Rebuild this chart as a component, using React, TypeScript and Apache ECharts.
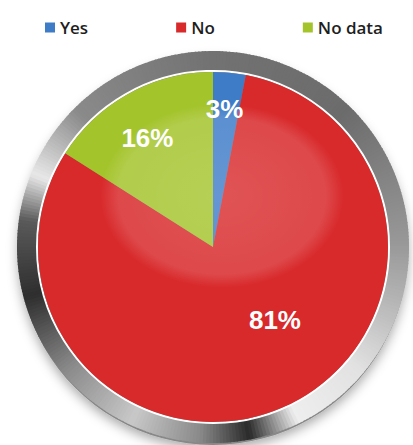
import React, { useEffect, useRef } from "react";
import * as echarts from "echarts";

const categories = ["Yes", "No", "No data"];
const values = [3, 81, 16];
const labels = ["3%", "81%", "16%"];
const colors = ["#3f7cc8", "#d8292b", "#a4c42c"];

const CX = 213;
const CY = 247;
const R = 175;

// decorative metallic ring colour stops (math angle in degrees, grey level)
const ringStops: [number, number][] = [
  [0, 0x9a],
  [45, 0x6c],
  [90, 0x72],
  [135, 0x8a],
  [158, 0xe8],
  [172, 0x5a],
  [195, 0x2e],
  [220, 0x8a],
  [245, 0xc8],
  [266, 0x8a],
  [281, 0x2a],
  [296, 0xee],
  [320, 0xe2],
  [345, 0xb2],
  [360, 0x9a],
];

function grayAt(a: number) {
  for (let i = 0; i < ringStops.length - 1; i++) {
    const [a0, g0] = ringStops[i];
    const [a1, g1] = ringStops[i + 1];
    if (a >= a0 && a <= a1) {
      const t = (a - a0) / (a1 - a0);
      const g = Math.round(g0 + (g1 - g0) * t);
      return `rgb(${g},${g},${g})`;
    }
  }
  return "#999";
}

export default function App() {
  const ref = useRef<HTMLDivElement>(null);
  useEffect(() => {
    if (!ref.current) return;
    const chart = echarts.init(ref.current, null, { renderer: "svg" });
    const ringEls: any[] = [];
    const step = 1;
    for (let a = 0; a < 360; a += step) {
      const c = grayAt(a + step / 2);
      ringEls.push({
        type: "sector",
        silent: true,
        z: 0,
        shape: {
          cx: CX,
          cy: CY,
          r0: R,
          r: 196,
          startAngle: (-(a + step + 0.3) * Math.PI) / 180,
          endAngle: (-a * Math.PI) / 180,
          clockwise: true,
        },
        style: { fill: c },
      });
    }
    const offsets = [
      [3, -48],
      [26, -10],
      [-22, -30],
    ];
    chart.setOption({
      animation: false,
      backgroundColor: "#ffffff",
      legend: {
        data: categories,
        left: 40,
        top: 14,
        itemGap: 88,
        itemWidth: 10,
        itemHeight: 10,
        icon: "rect",
        textStyle: {
          fontFamily: "Open Sans",
          fontSize: 17,
          fontWeight: 600,
          color: "#1e1e1e",
        },
      },
      graphic: [
        {
          type: "circle",
          silent: true,
          z: -1,
          shape: { cx: CX, cy: CY + 3, r: 195 },
          style: {
            fill: "#888",
            shadowBlur: 12,
            shadowColor: "rgba(0,0,0,0.35)",
            shadowOffsetY: 4,
          },
        },
        ...ringEls,
        {
          type: "circle",
          silent: true,
          z: 1,
          shape: { cx: CX, cy: CY, r: R + 1 },
          style: { fill: "none", stroke: "#ffffff", lineWidth: 2 },
        },
        {
          type: "ellipse",
          silent: true,
          z: 5,
          shape: { cx: 222, cy: 196, rx: 122, ry: 92 },
          style: {
            fill: new echarts.graphic.RadialGradient(0.5, 0.5, 0.5, [
              { offset: 0, color: "rgba(255,255,255,0.2)" },
              { offset: 0.85, color: "rgba(255,255,255,0.15)" },
              { offset: 1, color: "rgba(255,255,255,0)" },
            ]),
          },
        },
      ],
      series: [
        {
          type: "pie",
          z: 2,
          center: [CX, CY],
          radius: [0, R],
          startAngle: 90,
          clockwise: true,
          silent: true,
          label: {
            show: true,
            position: "inside",
            color: "#ffffff",
            fontSize: 26,
            fontWeight: "bold",
            fontFamily: "Liberation Sans",
          },
          labelLine: { show: false },
          itemStyle: { borderWidth: 0 },
          data: categories.map((name, i) => ({
            name,
            value: values[i],
            itemStyle: { color: colors[i] },
            label: { formatter: labels[i], offset: offsets[i] },
          })),
        },
      ],
    });
    return () => chart.dispose();
  }, []);
  return (
    <div
      ref={ref}
      style={{ position: "fixed", left: 0, top: 0, width: 413, height: 445 }}
    />
  );
}
